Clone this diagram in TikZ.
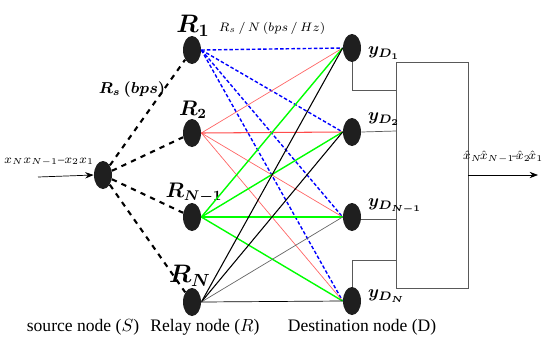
\documentclass[tikz,border=0pt]{standalone}
\usepackage{amsmath}
\usepackage{fontspec}
\setmainfont{Liberation Serif}
\usetikzlibrary{arrows.meta, shapes.geometric}

\begin{document}
\begin{tikzpicture}[>=Stealth, x=0.02cm, y=-0.02cm,
  terminal/.style={ellipse, fill=black!88, minimum width=0.36cm, minimum height=0.56cm, inner sep=0pt},
  srclink/.style={black, very thick, dashed},
  bluelink/.style={blue, thick, dash pattern=on 2pt off 1.2pt},
  redlink/.style={red!60, thin},
  greenlink/.style={green, thick},
  blacklink/.style={black, thin},
  wire/.style={black!65, thin}]

\useasboundingbox (0,0) rectangle (550,345);

% Source, relays and destinations
\node[terminal] (S) at (103,175) {};
\node[terminal] (R1) at (192,50) {};
\node[terminal] (R2) at (192,133) {};
\node[terminal] (R3) at (192,217) {};
\node[terminal] (R4) at (192,302) {};
\node[terminal] (D1) at (352,48) {};
\node[terminal] (D2) at (352,132) {};
\node[terminal] (D3) at (352,217) {};
\node[terminal] (D4) at (352,301) {};

% Decoder block
\node[draw=black!65, minimum width=1.44cm, minimum height=4.52cm, inner sep=0pt] (dec) at (432,175) {};

% Node labels
\node[font=\Large\boldmath] (lR1) at (193,26) {$R_1$};
\node[font=\large\boldmath] (lR2) at (193,110) {$R_2$};
\node[font=\large\boldmath] (lR3) at (194,193) {$R_{N-1}$};
\node[font=\Large\boldmath] (lR4) at (190,276) {$R_N$};
\node[font=\boldmath, anchor=west, inner sep=1pt] (lD1) at (366,53) {$y_{D_1}$};
\node[font=\boldmath, anchor=west, inner sep=1pt] (lD2) at (366,119) {$y_{D_2}$};
\node[font=\boldmath, anchor=west, inner sep=1pt] (lD3) at (366,206) {$y_{D_{N-1}}$};
\node[font=\boldmath, anchor=west, inner sep=1pt] (lD4) at (366,296) {$y_{D_N}$};

% Rate labels
\node[font=\small\boldmath] (rs) at (132,90) {$R_s\left(bps\right)$};
\node[font=\scriptsize] (rsn) at (272,28) {$R_s\,/\,N\left(bps\,/\,Hz\right)$};

% Input and output symbols
\coordinate (in) at (38,177);
\coordinate (out) at (538,175);
\node[font=\scriptsize, inner sep=0pt] (xin) at (49,162) {$x_N x_{N-1}\text{--}x_2 x_1$};
\node[font=\scriptsize, inner sep=0pt] (xout) at (503,157) {$\hat{x}_N\!\hat{x}_{N-1}\!\text{--}\!\hat{x}_2\!\hat{x}_1$};
\draw[->] (in) -- (S.west);
\draw[->] (dec.east |- out) -- (out);

% Source to relays
\foreach \r in {R1,R2,R3,R4}
  \draw[srclink] (S) -- (\r);

% Relays to destinations
\foreach \d in {D1,D2,D3,D4}
  \draw[bluelink] (R1.east) -- (\d.west);
\foreach \d in {D1,D3,D4}
  \draw[redlink] (R2.east) -- (\d.west);
\draw[redlink, red!70, semithick] (R2.east) -- (D2.west);
\foreach \d in {D1,D2,D4}
  \draw[greenlink] (R3.east) -- (\d.west);
\draw[greenlink, very thick] (R3.east) -- (D3.west);
\foreach \d in {D1,D2}
  \draw[blacklink, semithick] (R4.east) -- (\d.west);
\draw[blacklink, black!60] (R4.east) -- (D3.west);
\draw[blacklink] (R4.east) -- (D4.west);

% Destinations to decoder
\coordinate (j1) at (396,90);
\coordinate (j2) at (396,131);
\coordinate (j3) at (396,219);
\coordinate (j4) at (396,260);
\draw[wire] (D1.south) |- (j1);
\draw[wire] (D2.east) -- (j2);
\draw[wire] (D3.east |- j3) -- (j3);
\draw[wire] (D4.north) |- (j4);

% Captions
\node (cS) at (83,327) {source node ($S$)};
\node (cR) at (205,327) {Relay node ($R$)};
\node (cD) at (362,327) {Destination node (D)};

\end{tikzpicture}
\end{document}
